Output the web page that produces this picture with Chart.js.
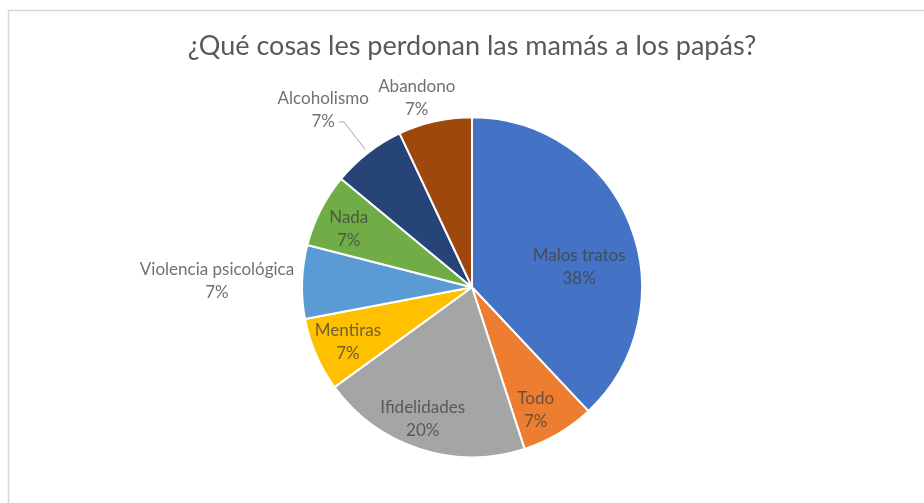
<!DOCTYPE html>
<html>
<head>
<meta charset="utf-8">
<script src="https://cdn.jsdelivr.net/npm/chart.js@4"></script>
<style>
  html, body { margin: 0; padding: 0; background: #fff; }
  #wrap { width: 924px; height: 503px; position: relative; }
</style>
</head>
<body>
<div id="wrap"><canvas id="pie-chart"></canvas></div>
<script>
var categories = ['Malos tratos', 'Todo', 'Ifidelidades', 'Mentiras', 'Violencia psicológica', 'Nada', 'Alcoholismo', 'Abandono'];
var values = [38, 7, 20, 7, 7, 7, 7, 7];
var colors = ['#4472C4', '#ED7D31', '#A5A5A5', '#FFC000', '#5B9BD5', '#70AD47', '#264478', '#9E480E'];

// where each label sits, in units of the pie radius from its centre
var labelPlace = [
    {dx: 0.63, dy: -0.12},
    {dx: 0.375, dy: 0.725},
    {dx: -0.29, dy: 0.775},
    {dx: -0.73, dy: 0.32},
    {dx: -1.5, dy: -0.035},
    {dx: -0.725, dy: -0.34},
    {dx: -0.875, dy: -1.04, leader: true},
    {dx: -0.325, dy: -1.11}
];

var labelFont = '17px Lato';
var labelColor = 'rgba(64,64,64,0.75)';

var pieLabels = {
    id: 'pieLabels',
    beforeDraw: function(chart){
        var ctx = chart.ctx;
        ctx.save();
        ctx.strokeStyle = '#d6d6d6';
        ctx.lineWidth = 1.5;
        ctx.strokeRect(8.5, 10.5, 1000, 1000);   // frame runs off right/bottom
        ctx.restore();
    },
    afterDatasetsDraw: function(chart){
        var ctx = chart.ctx;
        var meta = chart.getDatasetMeta(0);
        var total = values.reduce(function(a, b){ return a + b; }, 0);
        ctx.save();
        ctx.font = labelFont;
        ctx.fillStyle = labelColor;
        ctx.textAlign = 'center';
        ctx.textBaseline = 'middle';
        for(var i = 0; i < meta.data.length; i++){
            var arc = meta.data[i];
            var r = arc.outerRadius;
            var lx = arc.x + labelPlace[i].dx * r;
            var ly = arc.y + labelPlace[i].dy * r;
            var pct = Math.round(values[i] / total * 100) + '%';
            ctx.fillText(categories[i], lx, ly - 11.5);
            ctx.fillText(pct, lx, ly + 11.5);
            if(labelPlace[i].leader){
                var mid = (arc.startAngle + arc.endAngle) / 2;
                var sx = lx + ctx.measureText(pct).width / 2 + 4;
                ctx.beginPath();
                ctx.strokeStyle = '#a6a6a6';
                ctx.lineWidth = 1;
                ctx.moveTo(sx, ly + 11.5);
                ctx.lineTo(sx + 5, ly + 11.5);
                ctx.lineTo(arc.x + Math.cos(mid) * (r + 4), arc.y + Math.sin(mid) * (r + 4));
                ctx.stroke();
            }
        }
        ctx.restore();
    }
};

var ctx = document.getElementById('pie-chart').getContext('2d');
var pieChart = new Chart(ctx, {
    type: 'pie',
    data: {
        labels: categories,
        datasets: [{
            data: values,
            backgroundColor: colors,
            borderColor: '#ffffff',
            borderWidth: 2,
            hoverOffset: 0
        }]
    },
    options: {
        responsive: true,
        maintainAspectRatio: false,
        animation: false,
        radius: 170,
        layout: {
            padding: {left: 20, right: 0, top: 0, bottom: 10}
        },
        plugins: {
            title: {
                display: true,
                text: '¿Qué cosas les perdonan las mamás a los papás?',
                color: '#595959',
                font: {family: 'Lato', size: 27, weight: 'normal', lineHeight: 1.2},
                padding: {top: 30, bottom: 19}
            },
            legend: {display: false},
            tooltip: {enabled: false}
        }
    },
    plugins: [pieLabels]
});
</script>
</body>
</html>
